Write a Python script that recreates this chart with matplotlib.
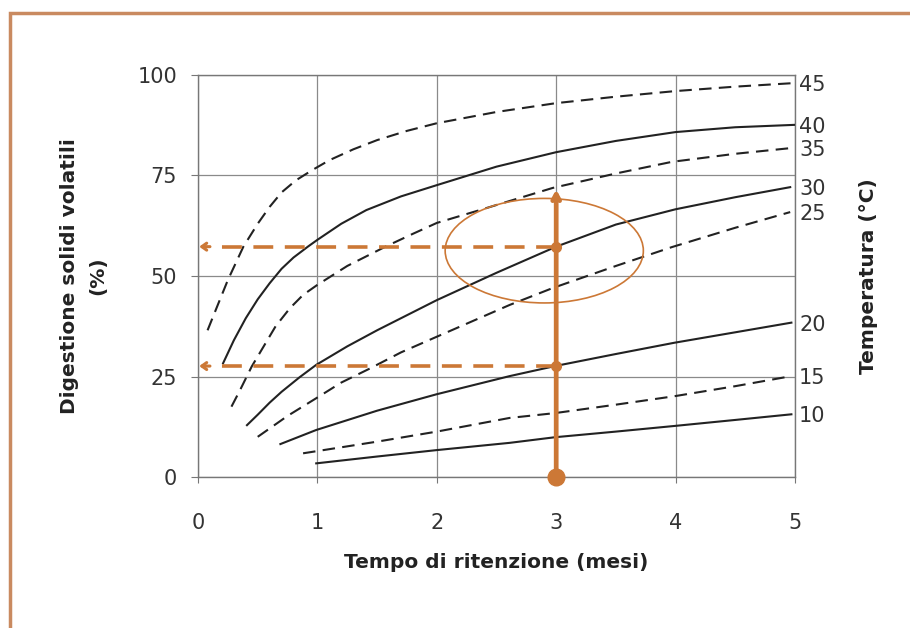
import matplotlib
matplotlib.use("Agg")
import matplotlib.pyplot as plt
from matplotlib.patches import Ellipse, Rectangle

plt.rcParams["font.family"] = ["DejaVu Sans"]

# ── data (x = months, y = % VS digestion) ────────────────────────────
temps = [45, 40, 35, 30, 25, 20, 15, 10]
dashed = [True, False, True, False, True, False, True, False]

x45 = [0.08, 0.16, 0.25, 0.38, 0.5, 0.6, 0.7, 0.82, 0.96, 1.1, 1.3, 1.5, 1.75, 2.0, 2.5, 3.0, 3.5, 4.0, 4.5, 5.0]
y45 = [36.5, 42.4, 49.0, 57.3, 63.0, 67.2, 70.8, 73.8, 76.4, 78.8, 81.5, 83.8, 86.1, 88.0, 90.8, 93.0, 94.6, 96.0, 97.1, 98.0]

x40 = [0.21, 0.3, 0.4, 0.5, 0.6, 0.7, 0.8, 0.92, 1.0, 1.2, 1.41, 1.7, 2.0, 2.5, 3.0, 3.5, 4.0, 4.5, 5.0]
y40 = [28.3, 34.0, 39.5, 44.2, 48.2, 51.8, 54.6, 57.3, 59.0, 63.0, 66.4, 69.8, 72.6, 77.2, 80.8, 83.6, 85.8, 87.0, 87.6]

x35 = [0.28, 0.35, 0.45, 0.55, 0.65, 0.77, 0.88, 1.0, 1.25, 1.57, 1.8, 2.0, 2.36, 2.97, 3.5, 3.97, 4.5, 4.96]
y35 = [17.5, 21.5, 27.5, 32.5, 37.5, 42.0, 45.3, 47.8, 52.5, 57.3, 60.5, 63.2, 66.4, 71.9, 75.5, 78.4, 80.4, 81.8]

x30 = [0.41, 0.5, 0.6, 0.7, 0.85, 0.99, 1.25, 1.5, 2.0, 2.5, 3.0, 3.5, 4.0, 4.5, 4.96]
y30 = [12.9, 15.5, 18.5, 21.2, 24.8, 27.9, 32.5, 36.5, 44.0, 50.8, 57.3, 62.8, 66.6, 69.6, 72.1]

x25 = [0.5, 0.75, 0.99, 1.2, 1.44, 1.7, 2.0, 2.61, 2.97, 3.5, 3.97, 4.5, 4.96]
y25 = [10.0, 15.2, 19.6, 23.5, 27.0, 31.0, 34.9, 42.8, 47.0, 52.5, 57.2, 62.0, 65.9]

x20 = [0.69, 0.99, 1.5, 2.0, 2.61, 2.99, 3.5, 3.99, 4.5, 4.97]
y20 = [8.2, 11.7, 16.5, 20.6, 25.1, 27.6, 30.6, 33.4, 36.0, 38.4]

x15 = [0.88, 1.5, 2.0, 2.61, 2.99, 3.5, 3.99, 4.5, 4.97]
y15 = [5.9, 8.8, 11.3, 14.7, 15.9, 18.0, 20.1, 22.6, 25.1]

x10 = [0.99, 1.5, 2.0, 2.61, 2.99, 3.5, 3.99, 4.5, 4.97]
y10 = [3.4, 5.1, 6.7, 8.5, 9.9, 11.3, 12.7, 14.2, 15.6]

curves_x = [x45, x40, x35, x30, x25, x20, x15, x10]
curves_y = [y45, y40, y35, y30, y25, y20, y15, y10]

# worked example at 3 months
ex_month = 3
ex_top = 71.5
ex_hits = [57.3, 27.6]

x_ticks = [0, 1, 2, 3, 4, 5]
y_ticks = [0, 25, 50, 75, 100]

orange = "#cc7836"
grey = "#8a8a8a"

fig = plt.figure(figsize=(9.1, 6.28), dpi=100)
ax = fig.add_axes([0.2176, 0.2404, 0.6560, 0.6402])

for xs, ys, d in zip(curves_x, curves_y, dashed):
    if d:
        ax.plot(xs, ys, color="#222222", lw=1.5, ls=(0, (6, 3.5)), zorder=3)
    else:
        ax.plot(xs, ys, color="#222222", lw=1.5, zorder=3)

ax.set_xlim(0, 5)
ax.set_ylim(0, 100)
ax.set_xticks(x_ticks)
ax.set_yticks(y_ticks)
ax.grid(True, color=grey, lw=0.9)
for s in ax.spines.values():
    s.set_color("#777777")
    s.set_linewidth(1.0)
ax.tick_params(axis="y", length=5, pad=10, labelsize=15, colors="#777777", labelcolor="#333333")
ax.tick_params(axis="x", length=4, pad=22, labelsize=15, colors="#777777", labelcolor="#333333")

ax.set_xlabel("Tempo di ritenzione (mesi)", fontsize=14.5, fontweight="bold", color="#222222", labelpad=14)
ax.set_ylabel("Digestione solidi volatili\n(%)", fontsize=14.5, fontweight="bold", color="#222222",
              labelpad=22, linespacing=1.6)

# right-hand temperature labels at curve ends
ax2 = ax.twinx()
ax2.set_ylim(0, 100)
ax2.set_yticks([ys[-1] for ys in curves_y])
ax2.set_yticklabels([str(t) for t in temps])
ax2.tick_params(axis="y", length=0, pad=3, labelsize=15, labelcolor="#333333")
for s in ax2.spines.values():
    s.set_visible(False)
ax2.set_ylabel("Temperatura (°C)", fontsize=14.5, fontweight="bold", color="#222222", labelpad=24)

# orange worked example
ax.annotate("", xy=(ex_month, ex_top), xytext=(ex_month, 0),
            arrowprops=dict(arrowstyle="->,head_length=0.45,head_width=0.25", color=orange, lw=3.4,
                            shrinkA=0, shrinkB=0), zorder=5)
for h in ex_hits:
    ax.plot([ex_month, 0.12], [h, h], color=orange, lw=2.6, ls=(0, (5.5, 3.2)), zorder=4)
    ax.annotate("", xy=(0.01, h), xytext=(0.1, h),
                arrowprops=dict(arrowstyle="->,head_length=0.35,head_width=0.25", color=orange, lw=2.2,
                                shrinkA=0, shrinkB=0), zorder=4)
    ax.plot(ex_month, h, "o", color=orange, ms=7, zorder=6)
ax.plot(ex_month, 0, "o", color=orange, ms=12, zorder=6, clip_on=False)
ax.add_patch(Ellipse((2.9, 56.3), 1.66, 26, fill=False, ec=orange, lw=1.2, zorder=4))

# frame of the original figure
fig.patches.append(Rectangle((0.011, -0.2), 1.2, 1.18, transform=fig.transFigure,
                             fill=False, ec="#c98a60", lw=2.5))

fig.savefig("out.png", dpi=100)
